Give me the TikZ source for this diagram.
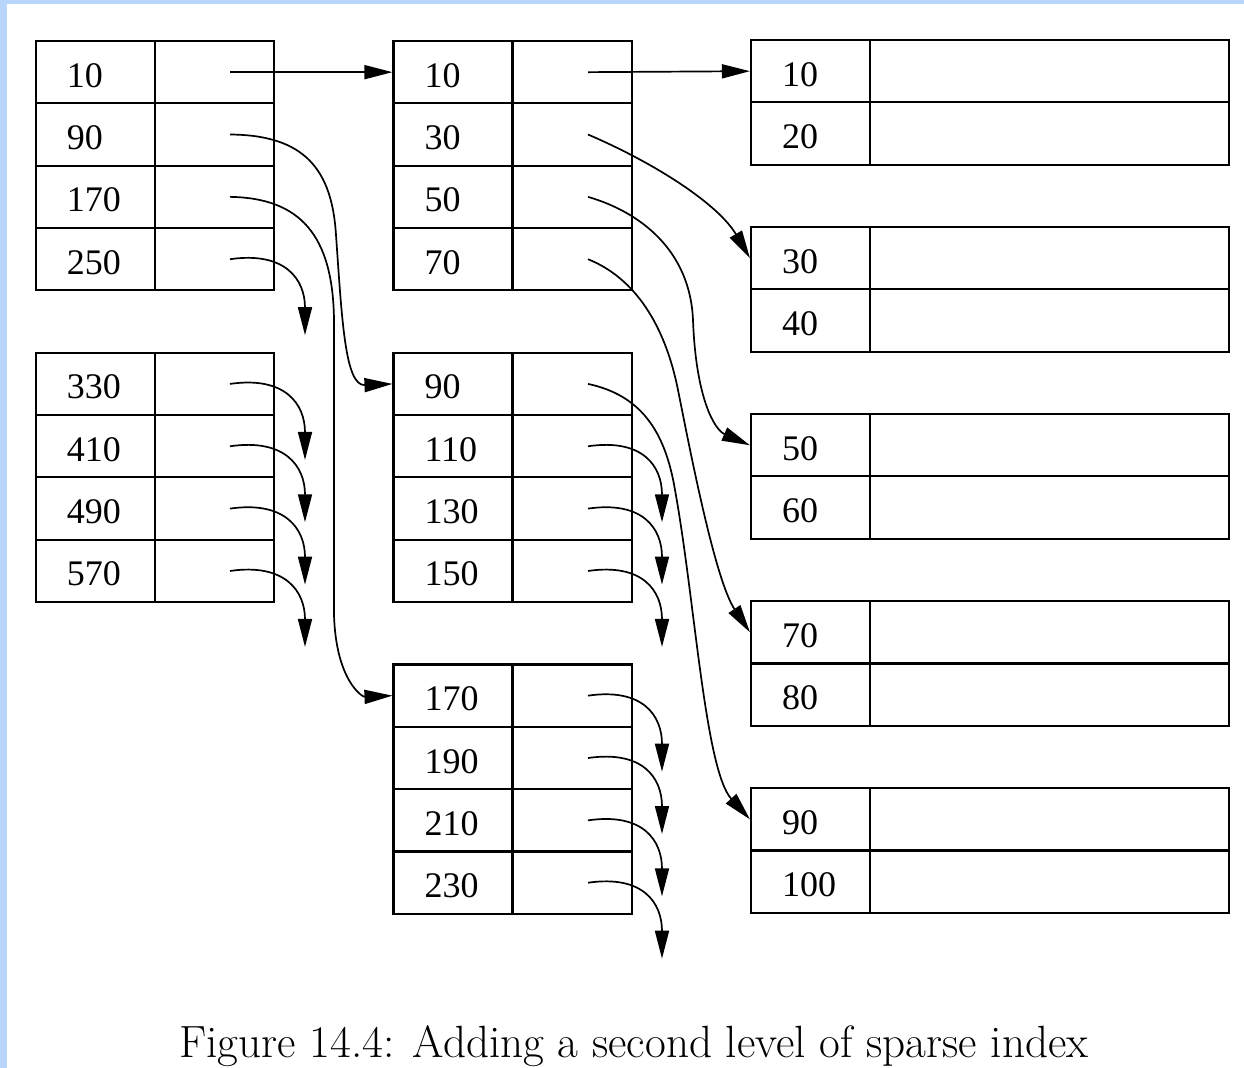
\documentclass[tikz,border=0pt]{standalone}
\usepackage{fontspec}
\newfontfamily\cellfont{Liberation Serif}
\usetikzlibrary{arrows.meta}
\definecolor{slideblue}{RGB}{184,214,252}

\tikzset{
  keycell/.style={draw, line width=1.05pt, minimum height=31.17pt, text width=28.5pt,
    text height=15pt, text depth=0pt, inner xsep=15.5pt, inner ysep=0pt, align=left,
    font=\cellfont\fontsize{18}{18}\selectfont},
  ptrcell/.style={draw, line width=1.05pt, minimum width=59.5pt, minimum height=31.17pt, inner sep=0pt},
  datacell/.style={ptrcell, minimum width=179.5pt},
  ptr/.style={line width=0.85pt, -{Triangle[length=14pt,width=7pt]}}
}

\begin{document}
\begin{tikzpicture}[x=0.5pt, y=-0.5pt]
  \useasboundingbox (0,0) rectangle (1244,1068);
  % slide edge
  \fill[slideblue] (0,0) rectangle (7,1068);
  \fill[slideblue] (0,0) rectangle (1244,4);

  % outer index
  \foreach \k [count=\i from 0] in {10,90,170,250,330,410,490,570} {
    \pgfmathsetmacro\yc{41+62.35*(\i+int(\i/4)+0.5)}
    \node[keycell] (o\i) at (95.5,\yc) {\k};
    \node[ptrcell] (op\i) at (214.5,\yc) {};
  }

  % inner index
  \foreach \k [count=\i from 0] in {10,30,50,70,90,110,130,150,170,190,210,230} {
    \pgfmathsetmacro\yc{41+62.35*(\i+int(\i/4)+0.5)}
    \node[keycell] (m\i) at (453,\yc) {\k};
    \node[ptrcell] (mp\i) at (572.5,\yc) {};
  }

  % data blocks
  \foreach \k [count=\i from 0] in {10,20,30,40,50,60,70,80,90,100} {
    \pgfmathsetmacro\yc{40+62.35*(\i+int(\i/2)+0.5)}
    \node[keycell] (d\i) at (810.5,\yc) {\k};
    \node[datacell] (dd\i) at (1049.5,\yc) {};
  }

  % outer -> inner
  \draw[ptr] ([xshift=7.75pt]op0.center) -- (m0.west);
  \draw[ptr] ([xshift=7.75pt]op1.center) .. controls (305,135) and (332,170) .. (336,235)
    .. controls (342,320) and (345,386) .. (m4.west);
  \draw[ptr] ([xshift=7.75pt]op2.center) .. controls (300,198) and (333,235) .. (334,320)
    -- (334,615) .. controls (336,680) and (362,697) .. (m8.west);

  % inner -> data
  \draw[ptr] ([xshift=7.75pt]mp0.center) -- (d0.west);
  \draw[ptr] ([xshift=7.75pt]mp1.center) .. controls +(70,30) and +(-31,-53) .. (d2.west);
  \draw[ptr] ([xshift=7.75pt]mp2.center) .. controls (640,212) and (690,250) .. (693,320)
    .. controls (696,400) and (715,430) .. (d4.west);
  \draw[ptr] ([xshift=7.75pt]mp3.center) .. controls (635,278) and (665,325) .. (678,390)
    .. controls (690,450) and (715,580) .. (d6.west);
  \draw[ptr] ([xshift=7.75pt]mp4.center) .. controls (640,395) and (665,430) .. (675,490)
    .. controls (695,600) and (705,770) .. (d8.west);

  % pointers to blocks not shown
  \foreach \i in {3,...,7} {
    \coordinate (oe\i) at ([shift={(90.5,76)}]op\i.center);
    \draw[ptr] ([xshift=7.75pt]op\i.center) .. controls +(55,-8) and +(0,-56) .. (oe\i);
  }
  \foreach \i in {5,...,11} {
    \coordinate (me\i) at ([shift={(89.5,76)}]mp\i.center);
    \draw[ptr] ([xshift=7.75pt]mp\i.center) .. controls +(55,-8) and +(0,-56) .. (me\i);
  }

  % caption
  \node[anchor=base, font=\fontsize{22.6}{26}\selectfont] (cap) at (634,1058)
    {Figure 14.4: Adding a second level of sparse index};
\end{tikzpicture}
\end{document}
